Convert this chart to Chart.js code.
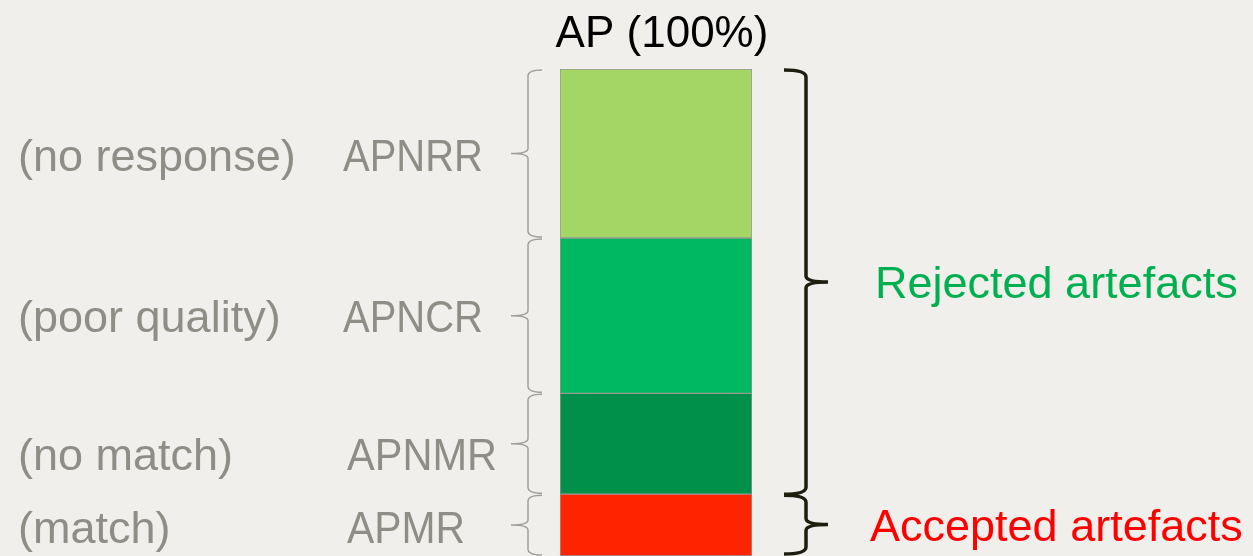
<!DOCTYPE html>
<html>
<head>
<meta charset="utf-8">
<script src="https://cdn.jsdelivr.net/npm/chart.js@4.4.1/dist/chart.umd.min.js"></script>
<style>
  html, body { margin: 0; padding: 0; background: #F0EFEB; }
  #wrap { width: 1253px; height: 556px; position: relative; }
</style>
</head>
<body>
<div id="wrap"><canvas id="c" width="1253" height="556"></canvas></div>
<script>
// ---- data (bottom to top) ----
const categories = ['AP (100%)'];
const segmentCodes = ['APMR', 'APNMR', 'APNCR', 'APNRR'];
const segmentDescriptions = ['(match)', '(no match)', '(poor quality)', '(no response)'];
const segmentValues = [12.7, 20.7, 31.9, 34.7];
const groupLabels = ['Accepted artefacts', 'Rejected artefacts'];
const groupMembers = [[0], [1, 2, 3]];

// ---- styles ----
const segmentColors = ['#FF2400', '#00904A', '#00B862', '#A3D664'];
const groupColors = ['#FF0000', '#00B050'];
const FONT = '"Liberation Sans", Arial, sans-serif';
const GRAY = '#8E8E86';
const codeMaxWidth = [118, 150, 140, 140];
const rowBaselineOffset = [18, 26, 16, 18];

const datasets = segmentValues.map((v, i) => ({
  label: segmentCodes[i],
  data: [v],
  backgroundColor: segmentColors[i],
  borderColor: '#9A9A92',
  borderWidth: 1,
  borderSkipped: false,
  barPercentage: 1,
  categoryPercentage: 1
}));

function leftBrace(ctx, x, y0, y1, tipX, hookX) {
  const mid = (y0 + y1) / 2;
  ctx.beginPath();
  ctx.moveTo(hookX, y0);
  ctx.quadraticCurveTo(x, y0, x, y0 + 6);
  ctx.lineTo(x, mid - 5);
  ctx.quadraticCurveTo(x, mid, tipX, mid);
  ctx.quadraticCurveTo(x, mid, x, mid + 5);
  ctx.lineTo(x, y1 - 6);
  ctx.quadraticCurveTo(x, y1, hookX, y1);
  ctx.stroke();
}

function rightBrace(ctx, x, y0, y1, tipX, hookX) {
  const mid = (y0 + y1) / 2;
  ctx.beginPath();
  ctx.moveTo(hookX, y0);
  ctx.quadraticCurveTo(x, y0, x, y0 + 7);
  ctx.lineTo(x, mid - 6);
  ctx.quadraticCurveTo(x, mid, tipX, mid);
  ctx.quadraticCurveTo(x, mid, x, mid + 6);
  ctx.lineTo(x, y1 - 7);
  ctx.quadraticCurveTo(x, y1, hookX, y1);
  ctx.stroke();
}

const annot = {
  id: 'annot',
  afterDraw(chart) {
    const ctx = chart.ctx;
    const y = chart.scales.y;
    const area = chart.chartArea;
    const cum = [0];
    segmentValues.forEach((v, i) => cum.push(cum[i] + v));
    const px = cum.map(v => y.getPixelForValue(v));
    ctx.save();
    // title
    ctx.fillStyle = '#000';
    ctx.font = '44px ' + FONT;
    ctx.textAlign = 'center';
    ctx.textBaseline = 'alphabetic';
    ctx.fillText(categories[0], (area.left + area.right) / 2 + 6, area.top - 22);
    // left labels + braces
    ctx.textAlign = 'left';
    for (let i = 0; i < segmentValues.length; i++) {
      const top = px[i + 1], bot = px[i];
      const mid = (top + bot) / 2;
      const base = mid + rowBaselineOffset[i];
      ctx.fillStyle = GRAY;
      ctx.font = '45px ' + FONT;
      ctx.fillText(segmentDescriptions[i], 18, base);
      ctx.font = '44px ' + FONT;
      ctx.fillText(segmentCodes[i], i < 2 ? 347 : 343, base, codeMaxWidth[i]);
      ctx.strokeStyle = '#A0A09A';
      ctx.lineWidth = 1.5;
      leftBrace(ctx, area.left - 32, top + 1, bot - 1, area.left - 49, area.left - 18);
    }
    // right braces + group labels
    groupMembers.forEach((m, g) => {
      const lo = Math.min(...m), hi = Math.max(...m);
      const bot = px[lo], top = px[hi + 1];
      const mid = (top + bot) / 2;
      ctx.strokeStyle = '#1E1E0E';
      ctx.lineWidth = 3.5;
      rightBrace(ctx, area.right + 54, top + 1, Math.min(bot, 554), area.right + 76, area.right + 32);
      ctx.fillStyle = groupColors[g];
      ctx.font = '45px ' + FONT;
      ctx.fillText(groupLabels[g], g === 0 ? 870 : 875, mid + 16, g === 0 ? 375 : 365);
    });
    ctx.restore();
  }
};

new Chart(document.getElementById('c'), {
  type: 'bar',
  data: { labels: categories, datasets },
  options: {
    responsive: false,
    animation: false,
    layout: { padding: { left: 560, right: 501, top: 69, bottom: 0 } },
    plugins: { legend: { display: false }, tooltip: { enabled: false }, title: { display: false } },
    scales: {
      x: { stacked: true, display: false },
      y: { stacked: true, display: false, min: 0, max: 100 }
    }
  },
  plugins: [annot]
});
</script>
</body>
</html>
